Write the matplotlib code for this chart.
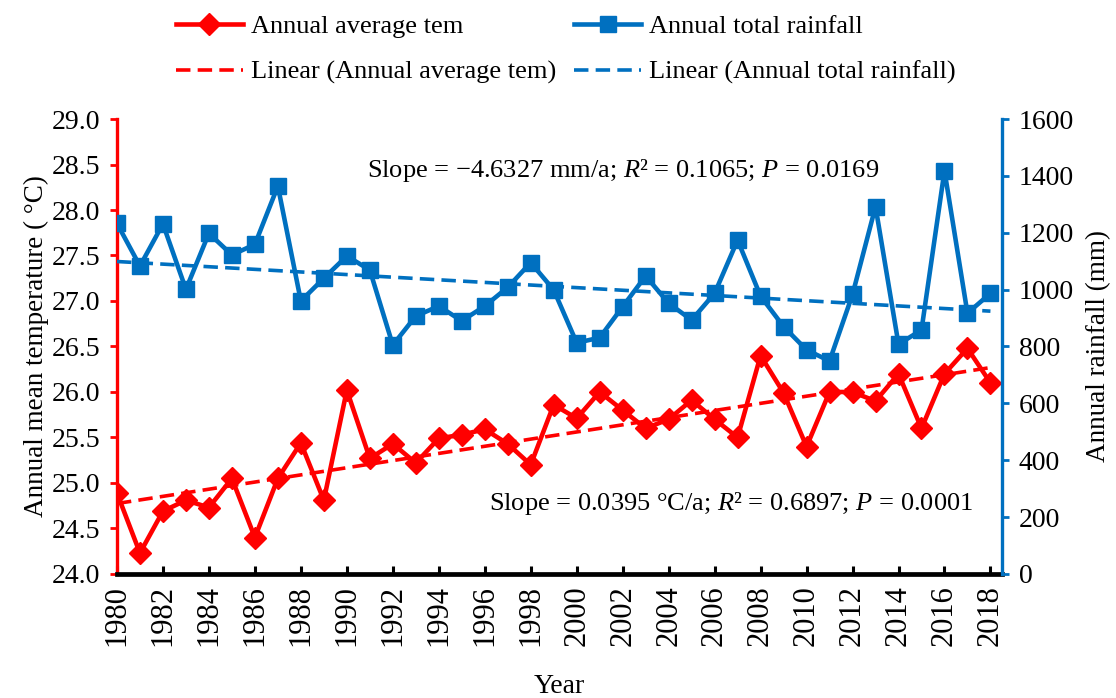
import numpy as np
import matplotlib
matplotlib.use("Agg")
import matplotlib.pyplot as plt

plt.rcParams['font.family'] = ['Liberation Serif', 'DejaVu Serif']
plt.rcParams['mathtext.fontset'] = 'custom'
plt.rcParams['mathtext.rm'] = 'Liberation Serif'
plt.rcParams['mathtext.it'] = 'Liberation Serif:italic'

# data
years = np.arange(1980, 2019)
temp = [24.89, 24.23, 24.69, 24.81, 24.73, 25.05, 24.40, 25.05, 25.44, 24.81,
        26.02, 25.27, 25.43, 25.22, 25.49, 25.53, 25.59, 25.43, 25.20, 25.86,
        25.71, 26.00, 25.80, 25.60, 25.70, 25.91, 25.70, 25.50, 26.40, 25.99,
        25.40, 26.00, 26.00, 25.90, 26.20, 25.60, 26.20, 26.48, 26.10]
rain = [1233, 1083, 1231, 1001, 1198, 1122, 1159, 1364, 960, 1040,
        1118, 1069, 805, 907, 942, 890, 942, 1008, 1095, 999,
        813, 831, 940, 1048, 952, 893, 987, 1174, 977, 870,
        788, 749, 983, 1292, 808, 858, 1418, 917, 987]

red = '#FF0000'
blue = '#0070C0'

fig = plt.figure(figsize=(11.16, 6.98), dpi=100)
ax = fig.add_axes([0.1048, 0.1777, 0.793, 0.6518])
ax2 = ax.twinx()

# temperature
l1, = ax.plot(years, temp, color=red, lw=3.3, marker='D', ms=11.5,
              label='Annual average tem', zorder=3)
kt = np.polyfit(years, temp, 1)
l2, = ax.plot(years, np.polyval(kt, years), color=red, lw=2.6,
              ls=(0, (4, 2)), label='Linear (Annual average tem)', zorder=2)

# rainfall
l3, = ax2.plot(years, rain, color=blue, lw=3.3, marker='s', ms=12,
               label='Annual total rainfall', zorder=3)
kr = np.polyfit(years, rain, 1)
l4, = ax2.plot(years, np.polyval(kr, years), color=blue, lw=2.6,
               ls=(0, (4, 2)), label='Linear (Annual total rainfall)', zorder=2)

ax.set_xlim(1980, 2018.5)
ax.set_ylim(24, 29)
ax2.set_ylim(0, 1600)
ax.set_yticks(np.arange(24, 29.01, 0.5))
ax.set_yticklabels([f'{v:.1f}' for v in np.arange(24, 29.01, 0.5)])
ax2.set_yticks(np.arange(0, 1601, 200))
ax.set_xticks(years[::2])
ax.set_xticklabels([str(y) for y in years[::2]], rotation=90)

for a in (ax, ax2):
    a.spines['top'].set_visible(False)
ax.spines['right'].set_visible(False)
ax2.spines['left'].set_visible(False)
ax2.spines['bottom'].set_visible(False)
ax.spines['left'].set_color(red)
ax.spines['left'].set_linewidth(2.4)
ax2.spines['right'].set_color(blue)
ax2.spines['right'].set_linewidth(2.4)
ax.spines['bottom'].set_color('black')
ax.spines['bottom'].set_linewidth(3.4)

ax.tick_params(axis='y', colors=red, labelcolor='black', length=5, width=2,
               direction='out', labelsize=20, pad=7)
ax2.tick_params(axis='y', colors=blue, labelcolor='black', length=5, width=2,
                direction='out', labelsize=20, pad=7)
ax.tick_params(axis='x', direction='in', length=6, width=2.2, labelsize=22, pad=8)

ax.set_ylabel('Annual mean temperature ( °C)', fontsize=19.5, labelpad=2)
ax2.set_ylabel('Annual rainfall (mm)', fontsize=19.5, labelpad=9)
ax.set_xlabel('Year', fontsize=20, labelpad=20)

ax.text(2002.0, 28.43, 'Slope = \u22124.6327 mm/a; $R$² = 0.1065; $P$ = 0.0169',
        fontsize=19, ha='center', va='center')
ax.text(2006.7, 24.77, 'Slope = 0.0395 \u00b0C/a; $R$² = 0.6897; $P$ = 0.0001',
        fontsize=19, ha='center', va='center')

fig.legend(handles=[l1, l2, l3, l4], loc='center', bbox_to_anchor=(0.507, 0.929),
           ncol=2, frameon=False, fontsize=19, handlelength=2.55,
           handletextpad=0.3, columnspacing=0.68, labelspacing=0.85)

fig.savefig('out.png', dpi=100)
